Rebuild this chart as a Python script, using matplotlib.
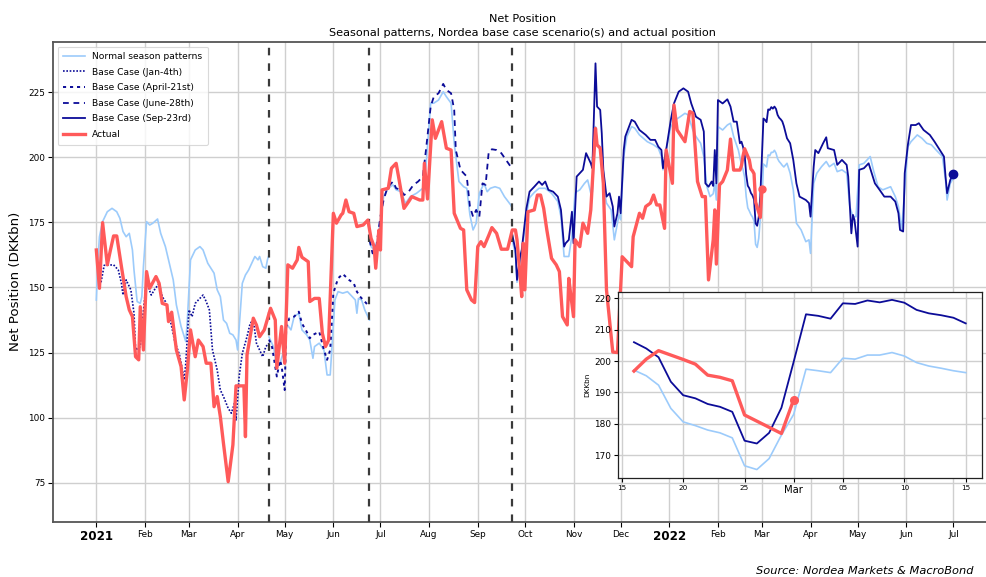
import numpy as np
import pandas as pd
import matplotlib
matplotlib.use("Agg")
import matplotlib.pyplot as plt

# ---------------- data (day offset from 2021-01-01, value DKKbn) ----------------
START = "2021-01-01"

actual = [(0,164.4),(2,149.7),(4,174.9),(7,158.7),(9,164.4),(11,169.8),(13,169.8),(16,158),(19,146.5),
 (21,141.4),(23,138.8),(25,123.4),(27,122.2),(28,142.6),(30,126),(32,156.1),(34,149.7),(38,154.2),(40,151.6),
 (42,143.9),(45,143.3),(46,136.9),(48,140.5),(51,126),(54,119.6),(56,106.8),(58,118.3),(60,133.7),(63,123.4),
 (65,129.8),(68,127.3),(70,120.9),(73,120.9),(75,104.2),(77,108.1),(79,100.4),(81,90.1),(84,75.4),(87,89.5),
 (89,112.2),(94,112.2),(95,92.7),(96,124.1),(100,138.2),(102,135.6),(104,131.1),(107,133.7),(111,142),
 (114,137.5),(115,119),(118,135),(120,120.9),(122,158.7),(125,157.4),(128,160.6),(129,165.4),(131,161.6),
 (135,159.9),(136,144.6),(139,145.8),(142,145.8),(144,132.4),(146,127.3),(148,129.8),(151,178.5),(153,174.7),
 (156,177.9),(157,178.5),(159,183.6),(161,179.1),(164,178.5),(166,173.4),(170,174),(173,175.9),(175,168.9),
 (177,165.7),(178,157.4),(180,172),(181,164.4),(182,187.5),(186,188.1),(188,195.8),(191,197.7),(193,191),
 (196,180.4),(199,183),(201,184.9),(206,183.6),(208,183.6),(209,197.7),(211,184),(214,214.4),(216,207.3),
 (220,213.7),(223,203.5),(226,202.8),(228,178.5),(232,172.7),(234,172.1),(236,149.1),(239,145.2),(241,144.2),
 (243,165.7),(245,167.6),(247,165.7),(250,170),(252,173),(255,170.8),(258,164.7),(262,164.7),(265,172.1),
 (267,172.1),(268,168.3),(270,154.2),(271,146.5),(272,167),(273,149.1),(275,179.1),(279,179.8),(281,185.5),
 (283,185.5),(285,180.4),(287,172.1),(290,161.2),(293,158.7),(295,156.1),(297,138.8),(300,135.6),(301,153.5),
 (302,148.4),(304,138.8),(305,168.3),(308,165.7),(310,174.7),(313,170.8),(315,179.8),(318,211.1),(319,204.8),
 (321,203.5),(323,190),(325,149.1),(329,125.2),(332,125),(335,161.8),(341,158),(342,169.5),(344,174),
 (346,178.5),(348,176.6),(350,181.1),(353,182.4),(355,185.5),(357,181.7),(359,181.7),(362,172.7),(363,202.8),
 (367,190),(368,220.1),(370,210.5),(375,206),(378,217.6),(380,217),(383,190.7),(386,184.9),(388,184.9),
 (390,152.9),(393,168.3),(394,179.8),(395,159),(397,189.4),(399,190.7),(402,195.1),(404,207),(406,195.1),
 (410,195.1),(411,196.8),(412,200.6),(413,203.3),(414,201.9),(415,200.5),(416,199.0),(417,195.5),(418,194.8),
 (419,193.7),(420,182.8),(423,176.9),(424,187.7)]

normal_1 = [(0,145.2),(1,160.6),(2,169.5),(4,175.3),(7,179.1),(10,180.4),(13,179.1),(15,176.6),(17,171.5),
 (19,169.5),(21,170.8),(23,164.4),(24,156.7),(26,144.6),(28,143.9),(29,146.5),(30,158),(32,175.3),(34,174),
 (36,174.7),(39,176.3),(41,170.8),(44,165.7),(46,160.6),(49,152.9),(51,143.3),(54,135),(57,129.2),(58,137.5),
 (60,160.6),(63,164.4),(66,165.7),(68,164.4),(71,159.3),(75,155.5),(77,149.1),(79,146.5),(81,137.5),(83,136.2),
 (85,132.4),(87,131.8),(89,129.8),(90,126),(93,151.6),(95,154.8),(97,156.7),(99,159.3),(101,161.9),(103,160.6),
 (104,161.9),(106,158),(108,157.4),(109,160.6),(110,162.5)]

normal_2 = [(110,131),(113,127),(115,119),(117,121),(119,124.7),(121,136.2),(124,133.7),(126,138.8),(129,140.1),
 (131,133.7),(134,131.8),(136,129.8),(138,122.8),(139,127.3),(142,128.6),(145,126),(147,116.4),(149,116.4),
 (150,126),(152,145.2),(154,148.4),(157,147.8),(160,148.4),(163,146.5),(165,145.2),(166,140.1),(167,145.8),
 (169,145.2),(171,141.4),(174,137.5)]

normal_3 = [(174,168),(175,165.7),(178,163.8),(181,175.9),(183,184.9),(186,188.1),(189,189.4),(191,187.5),
 (194,186.8),(197,182.3),(200,184.9),(204,186.2),(208,188.1),(210,196.4),(213,220.8),(215,220.8),(218,222),
 (221,225.2),(223,223.3),(226,220.8),(228,205.4),(231,190.7),(234,188.7),(236,188.1),(238,177.9),(240,172.1),
 (242,174.7),(244,186.2),(247,190),(249,186.8),(251,188.1),(254,188.7),(257,188.1),(260,184.9),(264,181.7),
 (265,180.4)]

normal_4 = [(265,168),(267,163),(268,152),(270,160),(271,163),(274,178),(276,184.5),(279,186.5),(282,188.1),
 (286,188.1),(290,186.2),(294,183),(296,177.2),(298,161.9),(301,161.9),(303,170),(305,186.2),(306,186.8),
 (308,187.5),(311,190),(313,191.3),(315,186.2),(316,186.8),(318,211.8),(319,205),(321,204),(322,200),(323,190),
 (325,182.4),(328,179.8),(330,168.3),(332,174.7),(333,178),(334,176),(336,200.3),(338,208),(341,211.8),
 (343,211.2),(346,208.6),(351,206),(355,204.8),(358,203.5),(360,200.3),(361,195.2),(363,202.8),(366,211.8),
 (369,214.4),(372,215.6),(375,216.9),(377,216.3),(380,210.5),(382,208),(385,205.4),(387,200.3),(389,188.7),
 (391,184.9),(393,186),(394,190),(395,183.6),(396,211.8),(399,210.5),(402,212.4),(404,213.1),(406,208),
 (409,202.8),(410,200),(411,197.1),(412,195.3),(413,192.3),(414,184.9),(415,180.6),(416,179.4),(417,178.0),
 (418,177.1),(419,175.5),(420,166.6),(421,165.4),(422,168.9),(423,176.4),(424,183.0),(425,197.4),(426,196.9),
 (427,196.3),(428,200.9),(429,200.6),(430,201.9),(431,201.9),(432,202.7),(433,201.6),(434,199.5),(435,198.4),
 (436,197.7),(437,196.9),(438,196.3),(440,197.7),(442,193.9),(444,187.5),(446,174.7),(449,172.1),(452,167.6),
 (454,168.3),(455,163.1),(457,190),(459,193.9),(462,196.4),(465,198.4),(467,196.4),(470,197.7),(472,194.5),
 (475,195.2),(478,193.9),(480,181.1),(482,177.2),(484,177.2),(486,197.1),(489,197.7),(493,200.3),(495,195.2),
 (498,188.7),(501,187.5),(506,188.7),(509,184.9),(511,181.1),(513,172.1),(515,187.5),(517,204.1),(519,206),
 (523,208.6),(526,207.3),(529,205.4),(532,204.8),(535,202.8),(539,200.3),(541,191.3),(542,183.6),(544,190),
 (546,192)]

base_jan4 = [(3,152),(5,158.5),(11,158.7),(14,156.7),(16,151.6),(17,147.1),(19,152.9),(22,149.1),(24,140.1),
 (25,126),(28,127.3),(29,135),(32,152.9),(33,150.3),(35,147.1),(37,149.1),(40,151.6),(42,146.5),(44,144.6),
 (46,140.1),(48,135),(50,129.2),(53,124.1),(56,114.5),(57,120.9),(59,141.4),(61,138.8),(63,143.9),(65,145.2),
 (68,147.1),(70,144.6),(72,141.4),(74,126),(77,118.3),(79,110.6),(81,108.1),(84,103.6),(86,101.7),(88,105.5),
 (89,99.1),(91,115.8),(93,124.7),(96,131.1),(98,136.2),(100,137.5),(102,128.6),(104,126),(106,123.4),
 (108,127.3),(110,128.6)]

base_apr21 = [(110,130),(112,127),(115,115.8),(117,122),(118,120),(120,110.6),(121,135),(123,138.2),
 (126,138.8),(129,140.7),(131,136.2),(134,133),(136,130.5),(138,131.8),(142,133),(145,126),(147,122.2),
 (149,126),(151,147.8),(154,153.5),(157,155.2),(161,152.9),(164,151.6),(166,148.4),(168,146.5),(171,144.6),
 (174,142.6)]

base_jun28 = [(174,168.3),(176,163.1),(178,164.4),(181,177.2),(183,183.6),(185,187.5),(187,189.4),(189,190.7),
 (191,188.1),(194,187.5),(196,185.5),(199,186.8),(202,189.4),(205,190.7),(208,192.6),(210,202.8),(213,219.5),
 (215,223.3),(218,224.6),(221,228.2),(223,225.9),(226,224.6),(228,218.2),(229,202.8),(232,195.2),(234,193.9),
 (236,192.6),(238,181.1),(240,177.2),(242,179.8),(244,177.2),(246,190),(248,189.4),(250,202.2),(252,203.1),
 (255,202.8),(258,201.6),(261,199),(264,196.4),(265,195.8)]

base_sep23 = [(265,170.2),(267,164.4),(268,152.9),(270,161.9),(271,164.4),(274,180.4),(276,186.8),(279,188.7),
 (282,190.7),(284,189.4),(286,190.7),(288,187.5),(291,186.8),(294,184.9),(296,179.8),(298,165.7),(299,167),
 (301,168.3),(303,179.1),(304,167),(306,192.6),(308,193.9),(310,195.2),(312,201.6),(315,197.7),(316,195.8),
 (318,236.1),(319,219.5),(321,218.2),(322,209.2),(323,195.2),(325,184.9),(327,186.2),(329,181.1),(330,173.4),
 (332,178.5),(333,184.9),(334,178.5),(336,202.8),(337,208),(339,211.2),(341,214.4),(343,213.7),(346,210.5),
 (350,208.6),(353,206.7),(356,206.7),(358,204.1),(360,202.8),(361,195.8),(363,202.8),(366,214.4),(368,220.7),
 (371,225.2),(374,226.5),(377,225.2),(379,220.7),(382,215.6),(385,214.4),(387,209.9),(388,190),(390,188.7),
 (392,190.7),(393,189),(394,202.8),(395,190),(396,222),(399,220.7),(402,222.3),(404,219.5),(406,213.7),
 (408,213.7),(410,205.4),(411,206.0),(412,204.0),(413,201.2),(414,193.4),(415,189.1),(416,188.1),(417,186.3),
 (418,185.4),(419,183.8),(420,174.6),(421,173.7),(422,177.1),(423,185.1),(424,199.8),(425,214.9),(426,214.4),
 (427,213.5),(428,218.4),(429,218.2),(430,219.3),(431,218.7),(432,219.5),(433,218.6),(434,216.3),(435,215.2),
 (436,214.6),(437,213.8),(438,212.0),(440,207.3),(442,205.4),(444,199),(446,190),(448,184.9),(452,183.6),
 (454,182.4),(455,177.2),(457,196.4),(458,202.8),(460,201.6),(463,205.4),(465,207.7),(466,203.5),(470,202.8),
 (472,197.1),(475,199),(478,197.1),(479,192.6),(481,170.8),(482,177.9),(483,175.9),(485,165.7),(486,195.2),
 (489,195.8),(492,197.7),(494,193.9),(496,190),(499,187.5),(502,184.9),(506,184.9),(509,183),(511,178.5),
 (512,172.1),(514,171.5),(515,193.9),(517,204.8),(519,212.4),(522,212.4),(524,213.1),(527,210.5),(531,208.6),
 (534,206),(538,202.2),(540,200.3),(541,192.6),(542,186.2),(544,191.3),(546,193.6)]

scenario_dates = ["2021-04-21", "2021-06-24", "2021-09-23"]
month_ticks = pd.date_range("2021-01-01", "2022-07-01", freq="MS")
inset_range = ("2022-02-16", "2022-03-15")

# ---------------- helpers ----------------
base = pd.Timestamp(START)

def series(pairs):
    d = np.array([p[0] for p in pairs])
    v = np.array([p[1] for p in pairs], dtype=float)
    return base + pd.to_timedelta(d, unit="D"), v

C_LIGHT = "#9ccbfb"
C_DARK = "#0c0c98"
C_RED = "#ff5a5a"
C_VL = "#3a3a3a"

plt.rcParams["font.family"] = ["DejaVu Sans"]
fig = plt.figure(figsize=(9.86, 5.77), dpi=100)
ax = fig.add_axes([53/986, 1-521.5/577, (992-53)/986, (521.5-42)/577])

# normal season patterns
for i, seg in enumerate([normal_1, normal_2, normal_3, normal_4]):
    x, y = series(seg)
    ax.plot(x, y, color=C_LIGHT, lw=1.2, label="Normal season patterns" if i == 0 else None, zorder=2)

x, y = series(base_jan4)
ax.plot(x, y, color=C_DARK, lw=1.2, ls=(0, (1, 1)), label="Base Case (Jan-4th)", zorder=3)
x, y = series(base_apr21)
ax.plot(x, y, color=C_DARK, lw=1.4, ls=(0, (1.6, 2.0)), label="Base Case (April-21st)", zorder=3)
x, y = series(base_jun28)
ax.plot(x, y, color=C_DARK, lw=1.3, ls=(0, (3.2, 2.6)), label="Base Case (June-28th)", zorder=3)
x, y = series(base_sep23)
ax.plot(x, y, color=C_DARK, lw=1.3, label="Base Case (Sep-23rd)", zorder=3)
ax.plot(x[-1:], y[-1:], "o", color=C_DARK, ms=6, zorder=4)

x, y = series(actual)
ax.plot(x, y, color=C_RED, lw=2.4, label="Actual", zorder=5)
ax.plot(x[-1:], y[-1:], "o", color=C_RED, ms=5, zorder=5)

for d in scenario_dates:
    ax.axvline(pd.Timestamp(d), color=C_VL, lw=1.6, ls=(0, (3.4, 3.6)), zorder=4)

ax.set_xlim(base + pd.Timedelta(days=-27.6), base + pd.Timedelta(days=570.6))
ax.set_ylim(60.1, 244.3)
ax.set_yticks([75, 100, 125, 150, 175, 200, 225])
ax.set_xticks(month_ticks)
labels = [str(d.year) if d.month == 1 else d.strftime("%b") for d in month_ticks]
ax.set_xticklabels(labels)
for t, d in zip(ax.get_xticklabels(), month_ticks):
    if d.month == 1:
        t.set_fontweight("bold")
        t.set_fontsize(8.6)
    else:
        t.set_fontsize(6.4)
ax.tick_params(axis="y", labelsize=6.4, length=3.5, width=0.8, pad=2)
ax.tick_params(axis="x", length=3.5, width=0.8, pad=2.5)
ax.grid(True, color="#cfcfcf", lw=1.0)
ax.set_axisbelow(True)
for s in ["left", "top", "bottom"]:
    ax.spines[s].set_color("#555555")
    ax.spines[s].set_linewidth(1.3)
ax.spines["right"].set_visible(False)

ax.set_ylabel("Net Position (DKKbn)", fontsize=9.6)
ax.yaxis.set_label_coords(-0.033, 0.5)
ax.set_title("Net Position\nSeasonal patterns, Nordea base case scenario(s) and actual position",
             fontsize=8.1, pad=4.5, linespacing=1.5)

leg = ax.legend(loc="upper left", fontsize=6.6, handlelength=2.4, labelspacing=0.72,
                borderpad=0.6, frameon=True, fancybox=True, edgecolor="#d0d0d0",
                bbox_to_anchor=(0.0, 1.0))
leg.get_frame().set_linewidth(0.8)

fig.text(973/986, 1-571/577, "Source: Nordea Markets & MacroBond", ha="right", va="center",
         fontsize=8.2, style="italic")

# ---------------- inset ----------------
ins = fig.add_axes([618/986, 1-477.7/577, (981.7-618)/986, (477.7-291.7)/577])
ins.set_facecolor("white")
lo, hi = pd.Timestamp(inset_range[0]), pd.Timestamp(inset_range[1])
for pairs, col, lw in [(normal_4, C_LIGHT, 1.2), (base_sep23, C_DARK, 1.3)]:
    x, y = series(pairs)
    m = (x >= lo) & (x <= hi)
    ins.plot(x[m], y[m], color=col, lw=lw)
x, y = series(actual)
m = (x >= lo) & (x <= hi)
ins.plot(x[m], y[m], color=C_RED, lw=2.4)
ins.plot(x[m][-1:], y[m][-1:], "o", color=C_RED, ms=5.5)

ins.set_xlim(base + pd.Timedelta(days=409.7), base + pd.Timedelta(days=439.3))
ins.set_ylim(162.8, 222.1)
ins.set_yticks([170, 180, 190, 200, 210, 220])
ins_ticks = pd.to_datetime(["2022-02-15", "2022-02-20", "2022-02-25", "2022-03-01",
                            "2022-03-05", "2022-03-10", "2022-03-15"])
ins.set_xticks(ins_ticks)
ins.set_xticklabels(["15", "20", "25", "Mar", "05", "10", "15"])
for t in ins.get_xticklabels():
    t.set_fontsize(7.2 if t.get_text() == "Mar" else 5.2)
ins.tick_params(axis="y", labelsize=6.4, length=3, pad=2)
ins.tick_params(axis="x", length=3, pad=2)
ins.grid(True, color="#cfcfcf", lw=1.0)
ins.set_axisbelow(True)
for s in ins.spines.values():
    s.set_color("#222222")
    s.set_linewidth(0.9)
ins.set_ylabel("DKKbn", fontsize=5.2, labelpad=3)

fig.savefig("out.png", dpi=100)
